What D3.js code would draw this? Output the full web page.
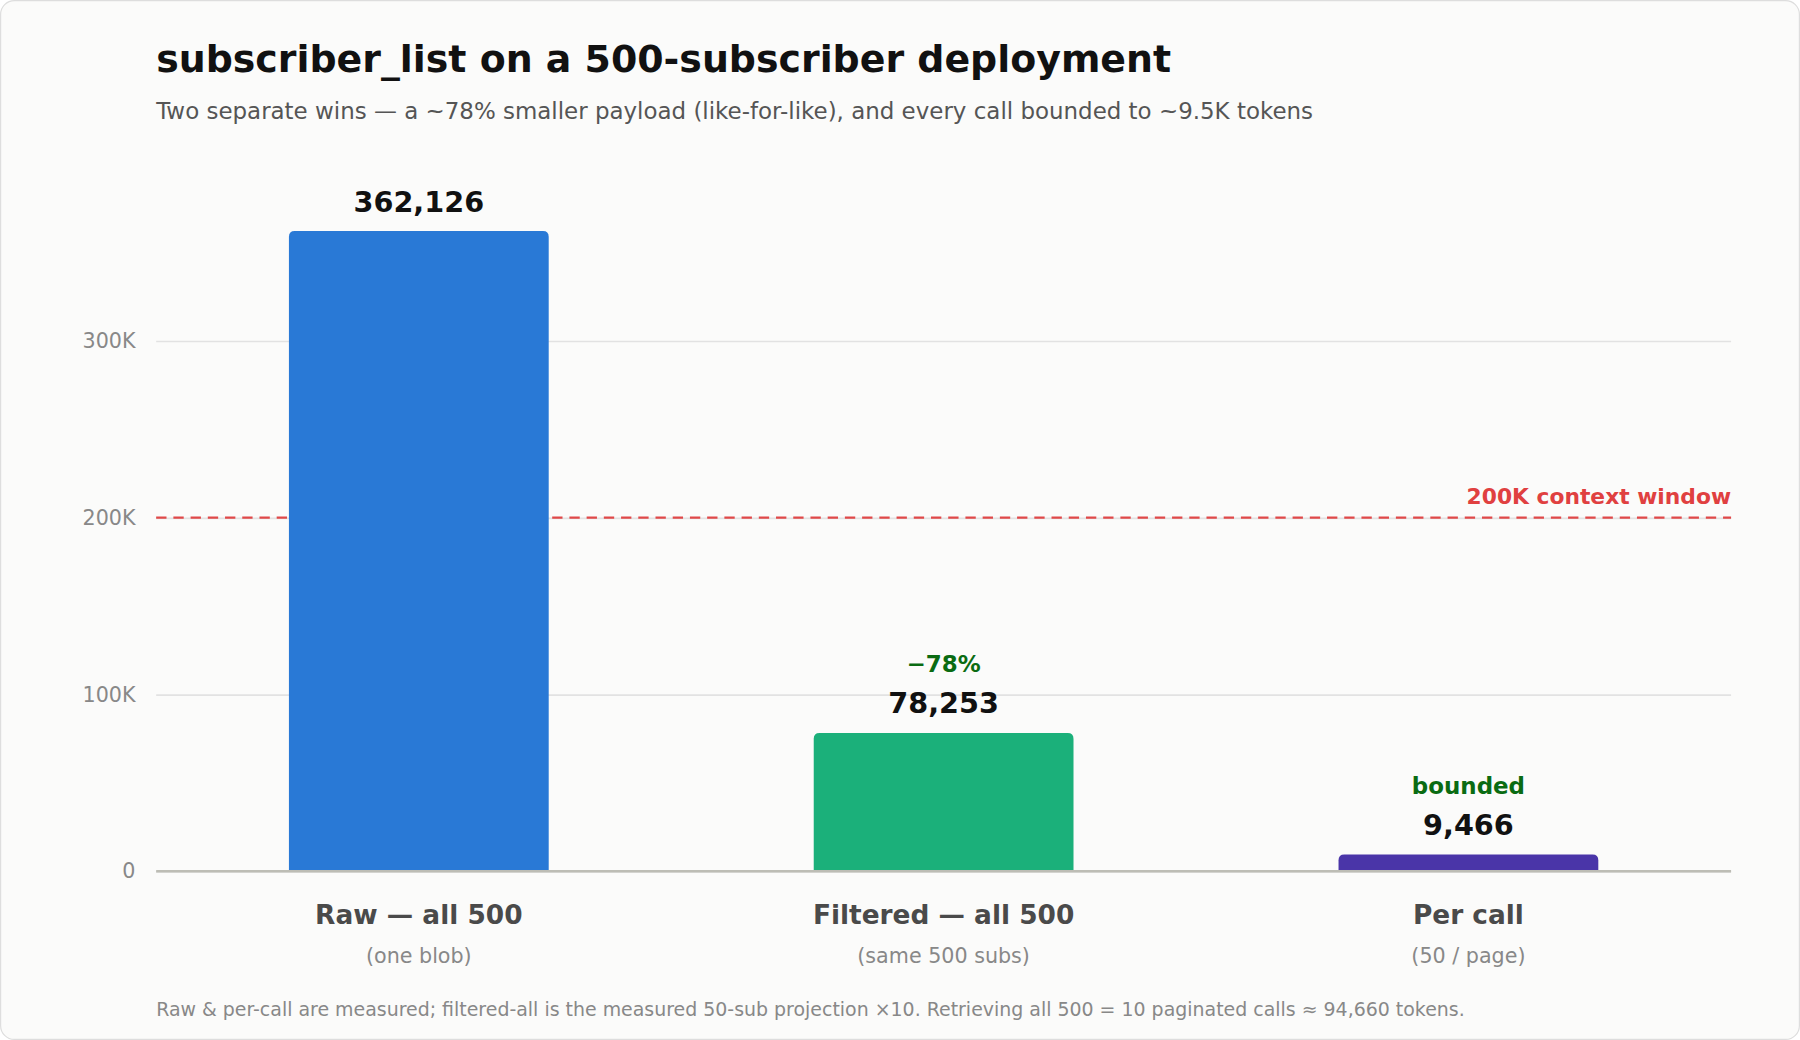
<!DOCTYPE html>
<html>
<head>
<meta charset="utf-8">
<script src="https://cdn.jsdelivr.net/npm/d3@7"></script>
<style>
  body { margin: 0; background: #fff; }
  svg { display: block; font-family: "DejaVu Sans", sans-serif; }
</style>
</head>
<body>
<div id="chart"></div>
<script>
const categories = ['Raw — all 500', 'Filtered — all 500', 'Per call'];
const subLabels = ['(one blob)', '(same 500 subs)', '(50 / page)'];
const values = [362126, 78253, 9466];
const notes = ['', '\u221278%', 'bounded'];
const colors = ['#2979d6', '#1bb07a', '#4a35a8'];
const yTicks = [0, 100000, 200000, 300000];
const tickLabels = ['0', '100K', '200K', '300K'];
const contextWindow = 200000;

// drawn in the reference's own 1568x906 space, scaled to the window
const W = 1568, H = 906;
const margin = { top: 140, right: 60, bottom: 147, left: 136 };

const svg = d3.select('#chart').append('svg')
  .attr('width', 1800).attr('height', 1040)
  .attr('viewBox', [0, 0, W, H]);

svg.append('rect')
  .attr('x', 0.5).attr('y', 0.5).attr('width', W - 1).attr('height', H - 1)
  .attr('rx', 12).attr('fill', '#fbfbfa').attr('stroke', '#ddd');

const x = d3.scaleBand()
  .domain(d3.range(categories.length))
  .range([margin.left, W - margin.right])
  .paddingInner(0.505).paddingOuter(0.253);

const y = d3.scaleLinear()
  .domain([0, 300000])
  .range([H - margin.bottom, H - margin.bottom - 462]);

// gridlines + tick labels
const yAxis = svg.append('g')
  .attr('transform', `translate(${margin.left},0)`)
  .call(d3.axisLeft(y).tickValues(yTicks).tickSize(-(W - margin.left - margin.right))
    .tickFormat((d, i) => tickLabels[i]));
yAxis.select('.domain').remove();
yAxis.selectAll('.tick line').attr('stroke', '#e2e2e2').attr('stroke-width', 1.5);
yAxis.selectAll('.tick text').attr('x', -18).attr('fill', '#888')
  .attr('font-size', 18).attr('font-family', '"DejaVu Sans", sans-serif');

// context window line
svg.append('line')
  .attr('x1', margin.left).attr('x2', W - margin.right)
  .attr('y1', y(contextWindow)).attr('y2', y(contextWindow))
  .attr('stroke', '#e04848').attr('stroke-width', 2).attr('stroke-dasharray', '9,6');
svg.append('text')
  .attr('x', W - margin.right).attr('y', y(contextWindow) - 12)
  .attr('text-anchor', 'end').attr('fill', '#e04040')
  .attr('font-size', 19).attr('font-weight', 'bold')
  .text('200K context window');

// bars with rounded top
const bw = x.bandwidth(), r = 5;
svg.append('g').selectAll('path').data(values).join('path')
  .attr('fill', (d, i) => colors[i])
  .attr('d', (d, i) => {
    const x0 = x(i), y0 = y(d), y1 = y(0);
    return `M${x0},${y1}V${y0 + r}Q${x0},${y0} ${x0 + r},${y0}H${x0 + bw - r}Q${x0 + bw},${y0} ${x0 + bw},${y0 + r}V${y1}Z`;
  });

// baseline
svg.append('line')
  .attr('x1', margin.left).attr('x2', W - margin.right)
  .attr('y1', y(0)).attr('y2', y(0))
  .attr('stroke', '#bdbdb5').attr('stroke-width', 2);

// value labels
svg.append('g').selectAll('text').data(values).join('text')
  .attr('x', (d, i) => x(i) + bw / 2).attr('y', d => y(d) - 17)
  .attr('text-anchor', 'middle').attr('font-size', 25).attr('font-weight', 'bold')
  .attr('fill', '#111').text(d => d3.format(',')(d));

svg.append('g').selectAll('text').data(values).join('text')
  .attr('x', (d, i) => x(i) + bw / 2).attr('y', d => y(d) - 53)
  .attr('text-anchor', 'middle').attr('font-size', 20).attr('font-weight', 'bold')
  .attr('fill', '#0a6b12').text((d, i) => notes[i]);

// category labels
svg.append('g').selectAll('text').data(categories).join('text')
  .attr('x', (d, i) => x(i) + bw / 2).attr('y', y(0) + 46)
  .attr('text-anchor', 'middle').attr('font-size', 23).attr('font-weight', 'bold')
  .attr('fill', '#4a4a4a').text(d => d);
svg.append('g').selectAll('text').data(subLabels).join('text')
  .attr('x', (d, i) => x(i) + bw / 2).attr('y', y(0) + 80)
  .attr('text-anchor', 'middle').attr('font-size', 18)
  .attr('fill', '#888').text(d => d);

// titles
svg.append('text').attr('x', 136).attr('y', 63)
  .attr('font-size', 33).attr('font-weight', 'bold').attr('fill', '#111')
  .text('subscriber_list on a 500-subscriber deployment');
svg.append('text').attr('x', 136).attr('y', 104)
  .attr('font-size', 20).attr('fill', '#555')
  .text('Two separate wins — a ~78% smaller payload (like-for-like), and every call bounded to ~9.5K tokens');

svg.append('text').attr('x', 136).attr('y', 885)
  .attr('font-size', 16.5).attr('fill', '#888')
  .text('Raw & per-call are measured; filtered-all is the measured 50-sub projection ×10. Retrieving all 500 = 10 paginated calls ≈ 94,660 tokens.');
</script>
</body>
</html>
